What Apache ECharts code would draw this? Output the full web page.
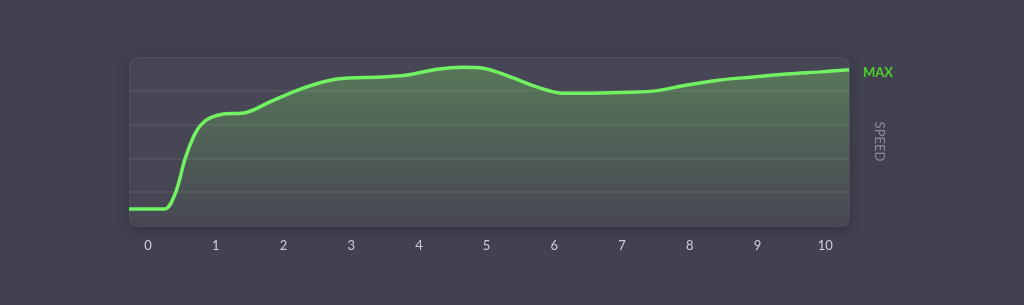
<!DOCTYPE html>
<html>
<head>
<meta charset="utf-8">
<script src="https://cdn.jsdelivr.net/npm/echarts@6/dist/echarts.min.js"></script>
<style>
html,body{margin:0;padding:0;background:#42414f;}
#chart{width:1024px;height:305px;}
</style>
</head>
<body>
<div id="chart"></div>
<script>
// Data
var timeValues  = [-0.28, 0.24, 0.40, 0.55, 0.70, 0.86, 1.08, 1.45, 1.80, 2.29, 2.79, 3.43, 3.80, 4.27, 4.65, 4.95, 5.35, 5.75, 6.13, 6.48, 7.12, 7.46, 7.96, 8.45, 8.94, 9.44, 9.93, 10.35];
var speedValues = [0.50, 0.50, 0.95, 2.00, 2.75, 3.13, 3.30, 3.36, 3.67, 4.08, 4.35, 4.41, 4.46, 4.64, 4.70, 4.67, 4.41, 4.11, 3.93, 3.93, 3.96, 3.99, 4.17, 4.32, 4.41, 4.50, 4.56, 4.62];
var tickLabels  = [0, 1, 2, 3, 4, 5, 6, 7, 8, 9, 10];
var xRange = [-0.28, 10.35];
var yRange = [0, 5];
var seriesName = 'Speed';
var axisName = 'SPEED';
var endText = 'MAX';

var points = timeValues.map(function (t, i) { return [t, speedValues[i]]; });

var chart = echarts.init(document.getElementById('chart'));
var gridBox = { left: 129, right: 175, top: 57, bottom: 79 };

chart.setOption({
  backgroundColor: '#42414f',
  animation: false,
  graphic: [{
    type: 'rect',
    left: gridBox.left,
    top: gridBox.top,
    z: -1,
    shape: { width: 1024 - gridBox.left - gridBox.right, height: 305 - gridBox.top - gridBox.bottom, r: 8 },
    style: {
      fill: '#474654',
      stroke: 'rgba(255,255,255,0.08)',
      lineWidth: 1,
      shadowBlur: 12,
      shadowOffsetY: 4,
      shadowColor: 'rgba(20,20,30,0.35)'
    }
  }],
  grid: gridBox,
  xAxis: {
    type: 'value',
    min: xRange[0],
    max: xRange[1],
    axisLine: { show: false },
    axisTick: { show: false },
    splitLine: { show: false },
    axisLabel: {
      customValues: tickLabels,
      color: '#cfced8',
      fontSize: 13,
      fontFamily: 'Lato',
      margin: 13
    }
  },
  yAxis: {
    type: 'value',
    position: 'right',
    min: yRange[0],
    max: yRange[1],
    interval: 1,
    name: axisName,
    nameLocation: 'middle',
    nameRotate: -90,
    nameGap: 24,
    nameTextStyle: { color: '#8c8b97', fontSize: 13, fontFamily: 'Lato' },
    axisLine: { show: false },
    axisTick: { show: false },
    axisLabel: { show: false },
    splitLine: {
      show: true,
      showMinLine: false,
      showMaxLine: false,
      lineStyle: { color: '#575662', width: 1.5 }
    }
  },
  series: [{
    name: seriesName,
    type: 'line',
    data: points,
    smooth: 0.35,
    showSymbol: false,
    lineStyle: { color: '#72f262', width: 3.5 },
    itemStyle: { color: '#72f262' },
    areaStyle: {
      color: new echarts.graphic.LinearGradient(0, 0, 0, 1, [
        { offset: 0, color: 'rgba(115,205,95,0.52)' },
        { offset: 1, color: 'rgba(115,205,95,0.0)' }
      ])
    },
    endLabel: {
      show: true,
      formatter: endText,
      color: '#4fd12c',
      fontWeight: 'bold',
      fontSize: 13,
      fontFamily: 'Lato',
      distance: 14,
      offset: [0, 3]
    }
  }]
});
</script>
</body>
</html>
